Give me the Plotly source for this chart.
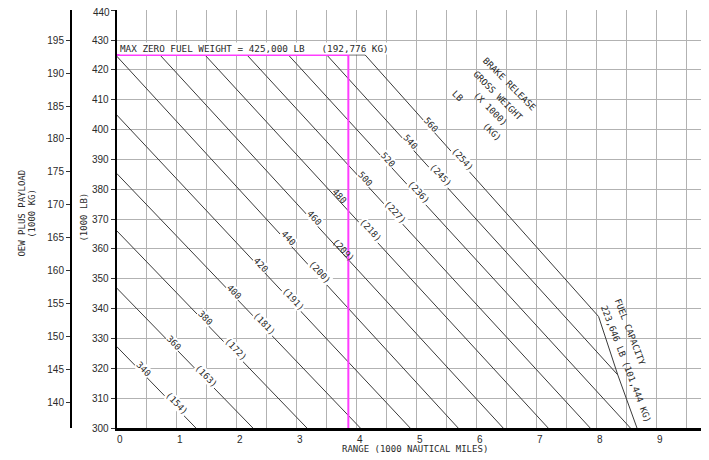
import math
import plotly.graph_objects as go

# ---------------- data ----------------
weights_lb = [340, 360, 380, 400, 420, 440, 460, 480, 500, 520, 540, 560]
weights_kg = [154, 163, 172, 181, 191, 200, 209, 218, 227, 236, 245, 254]
line_start_range = [0, 0, 0, 0, 0, 0, 0.72, 1.47, 2.17, 2.86, 3.50, 4.14]
line_start_payload = [327.3, 346.9, 366.1, 385.3, 404.9, 424.6, 425, 425, 425, 425, 425, 425]
line_end_range = [1.32, 2.27, 3.17, 4.06, 4.89, 5.69, 6.44, 7.19, 7.89, 8.56, 8.35, 8.03]
line_end_payload = [300, 300, 300, 300, 300, 300, 300, 300, 300, 300, 317.8, 337.35]
label_lb_range = [0.405, 0.92, 1.44, 1.92, 2.37, 2.82, 3.255, 3.67, 4.105, 4.49, 4.855, 5.205]
label_kg_range = [0.955, 1.455, 1.94, 2.43, 2.905, 3.34, 3.74, 4.19, 4.605, 4.99, 5.355, 5.72]

fuel_range = [8.03, 8.35, 8.67]
fuel_payload = [337.35, 317.8, 300]
fuel_capacity_lb = 223646
fuel_capacity_kg = 101444

mzfw_lb = 425
mzfw_kg = 192.776
mzfw_end_range = 4.14
example_range = 3.86

x_ticks = list(range(0, 10))
y_ticks_lb = list(range(300, 441, 10))
y_ticks_kg = list(range(140, 196, 5))
LB_PER_KG = 2.20462

# ---------------- layout geometry (page pixels; page has an 8px body margin) ----------------
OFF = 8
PAGE_W, PAGE_H = 709, 460
W, H = PAGE_W - OFF, PAGE_H - OFF
PLOT_LEFT = 116.7 - OFF
PLOT_TOP = 10 - OFF
PLOT_BOTTOM = 428.3 - OFF
M_TOP, M_BOT = PLOT_TOP, H - PLOT_BOTTOM
X_RANGE = [0, 9.87]
Y_RANGE = [300, 440.05]
KG_AXIS_PX = 71 - OFF
ppx = (W - PLOT_LEFT) / (X_RANGE[1] - X_RANGE[0])
ppy = (H - M_TOP - M_BOT) / (Y_RANGE[1] - Y_RANGE[0])

MONO = "DejaVu Sans Mono"
SANS = "Liberation Sans"
TXT = "#2a2a2a"
LINE = "#3a3a3a"
GRID = "#b2b2b2"
MAGENTA = "#ff3cff"

fig = go.Figure()

# brake release gross weight lines
for sx, sy, ex, ey in zip(line_start_range, line_start_payload, line_end_range, line_end_payload):
    fig.add_trace(go.Scatter(x=[sx, ex], y=[sy, ey], mode="lines",
                             line=dict(color=LINE, width=1), hoverinfo="skip", showlegend=False))

# MZFW limit
fig.add_trace(go.Scatter(x=[0, mzfw_end_range], y=[mzfw_lb, mzfw_lb], mode="lines",
                         line=dict(color=LINE, width=1), hoverinfo="skip", showlegend=False))
# fuel capacity limit
fig.add_trace(go.Scatter(x=fuel_range, y=fuel_payload, mode="lines",
                         line=dict(color=LINE, width=1), hoverinfo="skip", showlegend=False))
# example (magenta)
fig.add_trace(go.Scatter(x=[0, example_range, example_range], y=[mzfw_lb, mzfw_lb, Y_RANGE[0]],
                         mode="lines", line=dict(color=MAGENTA, width=2),
                         hoverinfo="skip", showlegend=False))
# invisible trace for the kg axis
fig.add_trace(go.Scatter(x=[0], y=[y_ticks_kg[0]], yaxis="y2", mode="markers",
                         marker=dict(opacity=0), hoverinfo="skip", showlegend=False))

annotations = []


def on_line(i, x):
    sx, sy = line_start_range[i], line_start_payload[i]
    ex, ey = line_end_range[i], line_end_payload[i]
    return sy + (x - sx) * (ey - sy) / (ex - sx)


for i, (wl, wk) in enumerate(zip(weights_lb, weights_kg)):
    slope = (line_start_payload[i] - line_end_payload[i]) / (line_end_range[i] - line_start_range[i])
    ang = math.degrees(math.atan(slope * ppy / ppx))
    d = 3.0
    xs, ys = d * math.sin(math.radians(ang)), d * math.cos(math.radians(ang))
    for lx, txt in ((label_lb_range[i], f"{wl}"), (label_kg_range[i], f"({wk})")):
        bg = "rgba(0,0,0,0)" if abs(lx - example_range) < 0.2 else "white"
        annotations.append(dict(x=lx, y=on_line(i, lx), xref="x", yref="y", text=txt,
                                xanchor="center", yanchor="middle",
                                showarrow=False, textangle=ang, xshift=xs, yshift=ys,
                                font=dict(family=MONO, size=9, color=TXT),
                                bgcolor=bg, borderpad=0))

# MZFW text
annotations.append(dict(
    x=0, y=mzfw_lb, xref="x", yref="y", xanchor="left", yanchor="bottom", xshift=2, yshift=0,
    text=f"MAX ZERO FUEL WEIGHT = {mzfw_lb*1000:,} LB\u00a0\u00a0\u00a0({mzfw_kg*1000:,.0f} KG)",
    showarrow=False, font=dict(family=MONO, size=9.3, color=TXT), bgcolor="white", borderpad=0))

# header of the weight labels
for tx, x, y in (("BRAKE RELEASE", 6.54, 415.2), ("GROSS WEIGHT", 6.355, 411.2),
                 ("(X 1000)", 6.23, 407.0), ("(KG)", 6.255, 399.1), ("LB", 5.68, 411.2)):
    annotations.append(dict(x=x, y=y, xref="x", yref="y", text=tx, showarrow=False,
                            xanchor="center", yanchor="middle",
                            textangle=45, font=dict(family=MONO, size=9, color=TXT)))

# fuel capacity text
annotations.append(dict(x=8.555, y=332.25, xref="x", yref="y", text="FUEL CAPACITY",
                        xanchor="center", yanchor="middle",
                        showarrow=False, textangle=69, font=dict(family=MONO, size=9, color=TXT)))
annotations.append(dict(x=8.488, y=321.5, xref="x", yref="y",
                        text=f"{fuel_capacity_lb:,} LB ({fuel_capacity_kg:,} KG)",
                        xanchor="center", yanchor="middle",
                        showarrow=False, textangle=69, font=dict(family=MONO, size=9, color=TXT)))


# axis titles (positions given in page pixels)
def px2paper(px):
    return (px - OFF) / W


def py2paper(py):
    return (PLOT_BOTTOM - (py - OFF)) / (PLOT_BOTTOM - PLOT_TOP)


def title(text, px, py, angle=0):
    annotations.append(dict(x=px2paper(px), y=py2paper(py), xref="paper", yref="paper",
                            xanchor="center", yanchor="middle", text=text, showarrow=False,
                            textangle=angle, font=dict(family=MONO, size=9, color=TXT)))


title("RANGE (1000 NAUTICAL MILES)", 415, 449)
title("(1000 LB)", 83.7, 217, -90)
title("OEW PLUS PAYLOAD", 21.7, 213, -90)
title("(1000 KG)", 32, 214, -90)

tickfont = dict(family=SANS, size=10, color=TXT)

# top lb tick label would be clipped by the page edge: draw it as an annotation nudged down
y_ticktext = [str(v) for v in y_ticks_lb[:-1]] + [""]
annotations.append(dict(x=0, y=y_ticks_lb[-1], xref="x", yref="y", text=str(y_ticks_lb[-1]),
                        xanchor="right", yanchor="middle", xshift=-6, yshift=-2,
                        showarrow=False, font=tickfont, borderpad=0))

fig.update_layout(
    width=W, height=H,
    margin=dict(l=0, r=0, t=M_TOP, b=M_BOT, pad=0),
    plot_bgcolor="white", paper_bgcolor="white",
    showlegend=False,
    annotations=annotations,
    xaxis=dict(range=X_RANGE, domain=[PLOT_LEFT / W, 1], tickvals=x_ticks,
               showgrid=True, gridcolor=GRID, gridwidth=1,
               minor=dict(dtick=0.5, tick0=0, showgrid=True, gridcolor=GRID, gridwidth=1),
               showline=True, linecolor="black", linewidth=3, ticks="",
               zeroline=False, tickfont=tickfont, ticklabelshift=3, automargin=False),
    yaxis=dict(range=Y_RANGE, tickvals=y_ticks_lb, ticktext=y_ticktext,
               showgrid=True, gridcolor=GRID, gridwidth=1,
               showline=True, linecolor="black", linewidth=2, ticks="outside", ticklen=4,
               tickcolor="#333", zeroline=False, tickfont=tickfont, automargin=False),
    yaxis2=dict(range=[Y_RANGE[0] / LB_PER_KG, Y_RANGE[1] / LB_PER_KG], tickvals=y_ticks_kg,
                overlaying="y", anchor="free", position=KG_AXIS_PX / W, side="left",
                showgrid=False, showline=True, linecolor="black", linewidth=2,
                ticks="outside", ticklen=4, tickcolor="#333", zeroline=False,
                tickfont=tickfont, automargin=False),
)

fig.write_html("out.html")
